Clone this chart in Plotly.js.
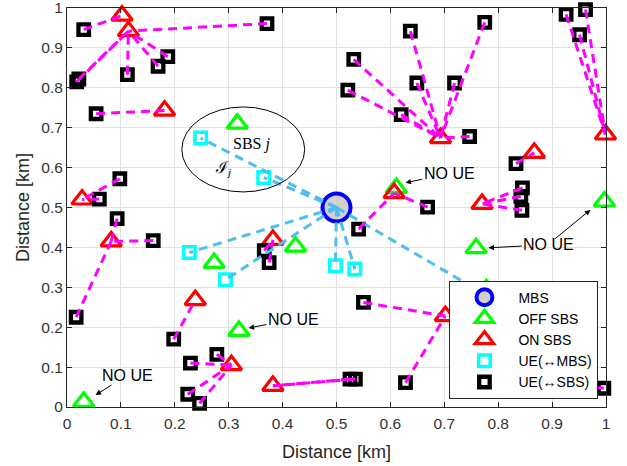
<!DOCTYPE html>
<html><head><meta charset="utf-8">
<script src="https://cdn.plot.ly/plotly-3.0.1.min.js"></script>
<style>html,body{margin:0;padding:0;background:#fff}#chart{width:627px;height:466px}</style>
</head><body><div id="chart"></div>
<script>
// Macro base station
const mbsX = [0.5];
const mbsY = [0.5];
// OFF small base stations
const offSbsX = [0.316, 0.611, 0.997, 0.759, 0.778, 0.424, 0.273, 0.319, 0.031];
const offSbsY = [0.710, 0.549, 0.515, 0.398, 0.295, 0.402, 0.361, 0.191, 0.013];
// ON small base stations
const onSbsX = [0.102, 0.114, 0.181, 0.028, 0.082, 0.382, 0.238, 0.305, 0.382, 0.702, 0.607, 0.770, 0.867, 0.693, 0.999, 0.86];
const onSbsY = [0.981, 0.942, 0.743, 0.520, 0.415, 0.419, 0.268, 0.105, 0.053, 0.228, 0.536, 0.509, 0.637, 0.674, 0.683, 0.07];
// UEs served by the MBS
const ueMbsX = [0.248, 0.365, 0.227, 0.294, 0.498, 0.534, 0.81];
const ueMbsY = [0.674, 0.575, 0.387, 0.319, 0.354, 0.346, 0.255];
// UEs served by an SBS (cell = index into ON SBS arrays)
const ueSbsX = [0.031, 0.018, 0.022, 0.371, 0.112, 0.169, 0.187, 0.054, 0.060, 0.098, 0.093, 0.160, 0.017, 0.366, 0.375, 0.198, 0.229, 0.278, 0.224, 0.246, 0.525, 0.535, 0.628, 0.550, 0.541, 0.669, 0.845, 0.842, 0.844, 0.833, 0.532, 0.521, 0.637, 0.649, 0.719, 0.775, 0.620, 0.747, 0.926, 0.962, 0.951, 0.996];
const ueSbsY = [0.946, 0.815, 0.822, 0.961, 0.833, 0.854, 0.878, 0.735, 0.521, 0.572, 0.472, 0.417, 0.225, 0.392, 0.362, 0.170, 0.110, 0.132, 0.032, 0.009, 0.070, 0.070, 0.061, 0.262, 0.446, 0.501, 0.549, 0.528, 0.493, 0.610, 0.871, 0.794, 0.942, 0.812, 0.812, 0.964, 0.733, 0.678, 0.984, 0.996, 0.933, 0.047];
const ueSbsCell = [0, 1, 1, 1, 1, 1, 1, 2, 3, 3, 4, 4, 4, 5, 5, 6, 7, 7, 7, 7, 8, 8, 9, 9, 10, 10, 11, 11, 11, 12, 13, 13, 13, 13, 13, 13, 13, 13, 14, 14, 14, 15];

const legendNames = ['MBS', 'OFF SBS', 'ON SBS', 'UE(\u2194MBS)', 'UE(\u2194SBS)'];
const tickVals = [0, 0.1, 0.2, 0.3, 0.4, 0.5, 0.6, 0.7, 0.8, 0.9, 1];
const tickText = ['0', '0.1', '0.2', '0.3', '0.4', '0.5', '0.6', '0.7', '0.8', '0.9', '1'];

const cyanX = [], cyanY = [];
ueMbsX.forEach((x, i) => { cyanX.push(mbsX[0], x, null); cyanY.push(mbsY[0], ueMbsY[i], null); });
const magX = [], magY = [];
ueSbsX.forEach((x, i) => { const c = ueSbsCell[i]; magX.push(x, onSbsX[c], null); magY.push(ueSbsY[i], onSbsY[c], null); });

const traces = [
  {x: mbsX, y: mbsY, name: legendNames[0], mode: 'markers', type: 'scatter', cliponaxis: false,
   marker: {symbol: 'circle', size: 28, color: '#d4d1cd', line: {color: '#0000ff', width: 4}}},
  {x: offSbsX, y: offSbsY, name: legendNames[1], mode: 'markers', type: 'scatter', cliponaxis: false,
   marker: {symbol: 'triangle-up-open', size: 18, color: '#00ff00', line: {color: '#00ff00', width: 3.2}}},
  {x: onSbsX, y: onSbsY, name: legendNames[2], mode: 'markers', type: 'scatter', cliponaxis: false,
   marker: {symbol: 'triangle-up-open', size: 18, color: '#ff0000', line: {color: '#ff0000', width: 3.2}}},
  {x: ueMbsX, y: ueMbsY, name: legendNames[3], mode: 'markers', type: 'scatter', cliponaxis: false,
   marker: {symbol: 'square-open', size: 11.5, color: '#00ffff', line: {color: '#00ffff', width: 3.5}}},
  {x: ueSbsX, y: ueSbsY, name: legendNames[4], mode: 'markers', type: 'scatter', cliponaxis: false,
   marker: {symbol: 'square-open', size: 10.5, color: '#000000', line: {color: '#000000', width: 4.3}}},
  {x: cyanX, y: cyanY, mode: 'lines', type: 'scatter', showlegend: false, hoverinfo: 'skip',
   line: {color: '#4dbeee', width: 3, dash: '9px,6px'}},
  {x: magX, y: magY, mode: 'lines', type: 'scatter', showlegend: false, hoverinfo: 'skip',
   line: {color: '#ff00ff', width: 3, dash: '9px,6px'}}
];

const sans = 'Liberation Sans, Arial, sans-serif';
const axisCommon = {
  range: [0, 1], tickmode: 'array', tickvals: tickVals, ticktext: tickText,
  showgrid: true, gridcolor: '#e1e1e1', gridwidth: 1,
  zeroline: false, showline: true, linecolor: '#262626', linewidth: 1, mirror: 'allticks',
  ticks: 'inside', ticklen: 5, tickcolor: '#262626', tickwidth: 1,
  ticklabeloverflow: 'allow',
  tickfont: {family: sans, size: 15.5, color: '#333333'},
  fixedrange: true
};

const noUeFont = {family: sans, size: 16, color: '#000000'};
function noUe(tx, ty, hx, hy) {
  return {x: hx, y: hy, ax: tx, ay: ty, xref: 'x', yref: 'y', axref: 'x', ayref: 'y', text: 'NO UE',
    font: noUeFont, showarrow: true, arrowhead: 2, arrowsize: 1.1, arrowwidth: 1, arrowcolor: '#000000'};
}
const serif = {family: 'Liberation Serif, DejaVu Serif, serif', size: 16, color: '#000000'};

const layout = {
  width: 627, height: 466,
  margin: {l: 67, r: 21, t: 8, b: 59},
  paper_bgcolor: '#ffffff', plot_bgcolor: '#ffffff',
  showlegend: true,
  xaxis: Object.assign({}, axisCommon, {
    ticklabelstandoff: 2,
    title: {text: 'Distance [km]', font: {family: sans, size: 18, color: '#262626'}, standoff: 14}
  }),
  yaxis: Object.assign({}, axisCommon, {
    title: {text: 'Distance [km]', font: {family: sans, size: 18, color: '#262626'}, standoff: 7}
  }),
  legend: {
    x: 0.986, y: 0.021, xanchor: 'right', yanchor: 'bottom',
    bgcolor: '#ffffff', bordercolor: '#262626', borderwidth: 1,
    font: {family: sans, size: 14, color: '#000000'},
    itemwidth: 58, tracegroupgap: 0
  },
  shapes: [
    {type: 'circle', xref: 'x', yref: 'y', x0: 0.213, x1: 0.441, y0: 0.539, y1: 0.752,
     line: {color: '#000000', width: 1}}
  ],
  annotations: [
    noUe(0.709, 0.585, 0.628, 0.562),
    noUe(0.894, 0.407, 0.782, 0.399),
    {x: 0.971, y: 0.494, ax: 0.903, ay: 0.419, xref: 'x', yref: 'y', axref: 'x', ayref: 'y', text: '',
     showarrow: true, arrowhead: 2, arrowsize: 1.1, arrowwidth: 1, arrowcolor: '#000000'},
    noUe(0.420, 0.220, 0.337, 0.198),
    noUe(0.112, 0.080, 0.053, 0.030),
    {x: 0.343, y: 0.66, xref: 'x', yref: 'y', text: 'SBS <i>j</i>', showarrow: false, font: serif},
    {x: 0.289, y: 0.597, xref: 'x', yref: 'y', text: '\u2110<sub><i>j</i></sub>', showarrow: false, font: serif}
  ]
};

Plotly.newPlot('chart', traces, layout, {staticPlot: true, displayModeBar: false});
</script>
</body></html>
